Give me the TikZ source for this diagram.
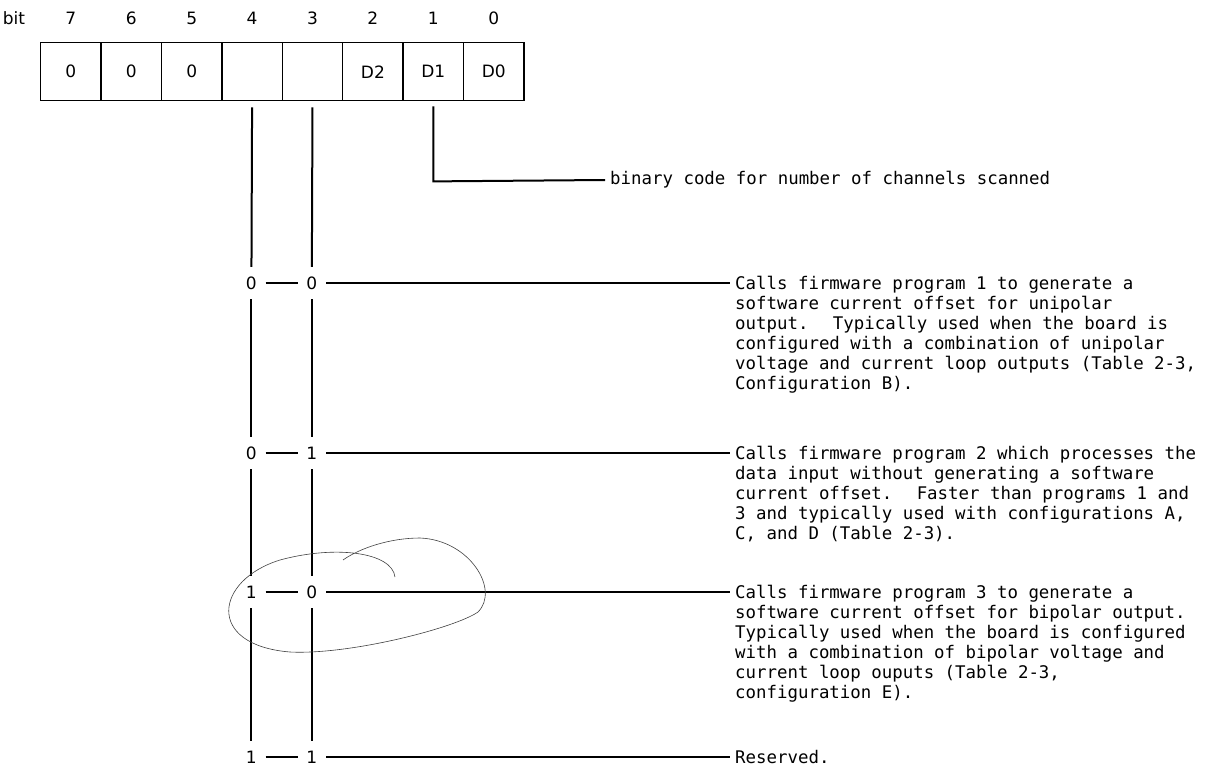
\documentclass[tikz,border=0pt]{standalone}
\usepackage{fontspec}
\setmainfont{DejaVu Sans}
\newfontfamily\printfont{DejaVu Sans Mono}
\usetikzlibrary{positioning,calc}

\begin{document}
\begin{tikzpicture}[x=1pt,y=-1pt,
  font=\fontsize{17}{20}\selectfont,
  cell/.style={draw, line width=1.4pt, minimum width=60.4pt, minimum height=58pt, inner sep=0pt, anchor=north west},
  bitnum/.style={inner sep=1pt},
  lvl/.style={inner sep=0pt, minimum width=28pt, minimum height=32pt},
  wire/.style={line width=2pt},
  note/.style={anchor=north west, inner sep=0pt, align=left, font=\printfont\fontsize{17.4}{20}\selectfont},
  scribble/.style={line width=0.6pt, black!75}
]
\useasboundingbox (0,0) rectangle (1206,773);

% register with bit numbers
\node (bitlbl) at (14,18) {bit};
\foreach \b/\t [count=\i from 0] in {7/0,6/0,5/0,4/{},3/{},2/D2,1/D1,0/D0} {
  \node[cell] (c\b) at (40+60.4*\i,42) {\t};
  \node[bitnum] (n\b) at ($(c\b.north)+(0,-24)$) {\b};
}

% D2-D0 field
\coordinate (bend) at ($(c1.south)+(0,80)$);
\coordinate (binend) at (605,180);
\draw[wire, shorten <=5pt] (c1.south) -- (bend) -- (binend);
\node[note, anchor=west] (binary) at (610,180) {binary code for number of channels scanned};

% bits 4 and 3
\foreach \r/\y/\a/\bb in {1/283/0/0, 2/453/0/1, 3/592/1/0, 4/757/1/1} {
  \node[lvl] (p\r) at (251.4,\y) {\a};
  \node[lvl] (q\r) at (311.8,\y) {\bb};
  \coordinate (t\r) at (730,\y);
  \draw[wire] (p\r) -- (q\r);
  \draw[wire] (q\r) -- (t\r);
}
\draw[wire, shorten <=6pt] (c4.south) -- (p1);
\draw[wire, shorten <=6pt] (c3.south) -- (q1);
\foreach \r/\s in {1/2, 2/3, 3/4} {
  \draw[wire] (p\r) -- (p\s);
  \draw[wire] (q\r) -- (q\s);
}

\node[note] (prog1) at ($(t1)+(5,-7)$) {Calls firmware program 1 to generate a\\
software current offset for unipolar\\
output.~ Typically used when the board is\\
configured with a combination of unipolar\\
voltage and current loop outputs (Table 2-3,\\
Configuration B).};
\node[note] (prog2) at ($(t2)+(5,-7)$) {Calls firmware program 2 which processes the\\
data input without generating a software\\
current offset.~ Faster than programs 1 and\\
3 and typically used with configurations A,\\
C, and D (Table 2-3).};
\node[note] (prog3) at ($(t3)+(5,-7)$) {Calls firmware program 3 to generate a\\
software current offset for bipolar output.\\
Typically used when the board is configured\\
with a combination of bipolar voltage and\\
current loop ouputs (Table 2-3,\\
configuration E).};
\node[note] (resv) at ($(t4)+(5,-7)$) {Reserved.};

% pencil loop round 1-0
\draw[scribble] (395,577) .. controls (392,552) and (335,545) .. (280,560)
  .. controls (215,580) and (205,645) .. (290,652)
  .. controls (350,655) and (455,628) .. (478,612)
  .. controls (500,590) and (470,540) .. (420,538)
  .. controls (390,538) and (360,548) .. (343,560);
\end{tikzpicture}
\end{document}
